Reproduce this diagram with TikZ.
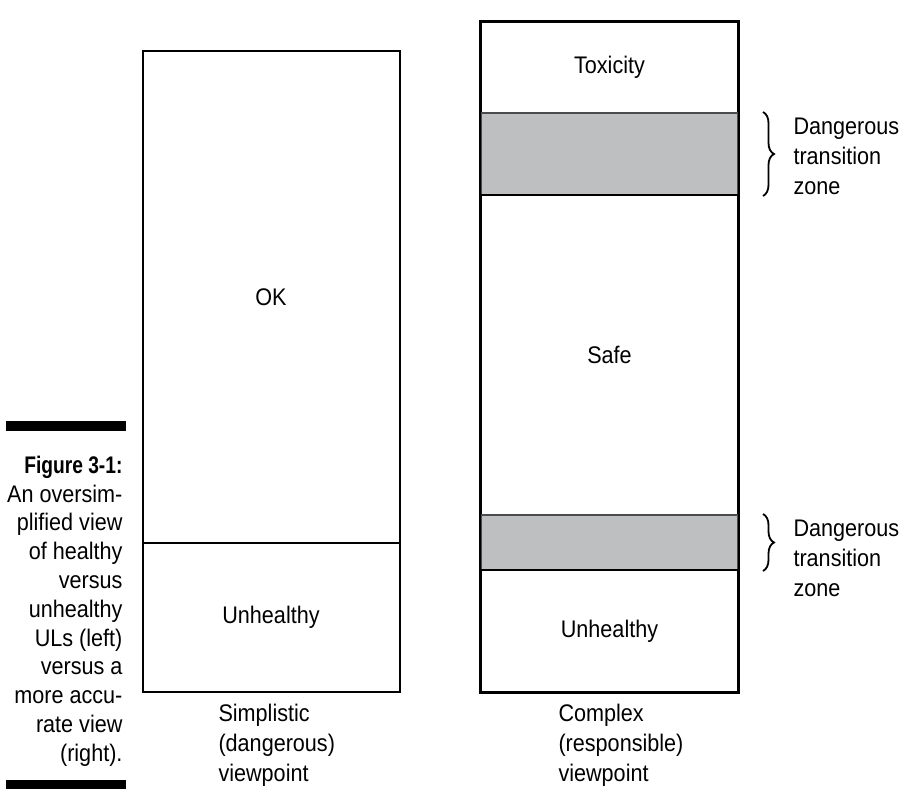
\documentclass[tikz,border=0pt]{standalone}
\usepackage{fontspec}
\setmainfont{Liberation Sans}[FakeStretch=0.9, BoldFeatures={FakeStretch=0.8}]
\usepackage{tikz}
\usetikzlibrary{decorations.pathreplacing}
\definecolor{zonegray}{RGB}{190,191,193}
\newcommand{\lbl}{\fontsize{24}{30}\selectfont}
\newcommand{\cpt}{\fontsize{24}{28.8}\selectfont}

\begin{document}
\begin{tikzpicture}[x=1pt,y=-1pt,
zonebox/.style={rectangle, draw=black, line width=2pt, minimum width=257pt, inner sep=0pt, font=\lbl},
graybox/.style={zonebox, draw=black!70, fill=zonegray},
bar/.style={rectangle, fill=black, inner sep=0pt, minimum width=120pt, minimum height=9.5pt},
zonebrace/.style={decorate, decoration={brace, amplitude=11pt}, line width=1.8pt},
label/.style={align=left, font=\lbl}
]
\useasboundingbox (0,0) rectangle (900,791);
%Nodes
\node[zonebox, minimum height=492pt] at (271,297) (ok) {OK};
\node[zonebox, minimum height=149pt] at (271,617.5) (unhealthyL) {Unhealthy};

\node[zonebox, minimum height=91pt] at (609.5,67.5) (toxicity) {Toxicity};
\node[graybox, minimum height=82pt] at (609.5,154) (zoneTop) {};
\node[zonebox, minimum height=320pt] at (609.5,355) (safe) {Safe};
\node[graybox, minimum height=55pt] at (609.5,542.5) (zoneBottom) {};
\node[zonebox, minimum height=122pt] at (609.5,631) (unhealthyR) {Unhealthy};

\node[label, anchor=west] at (790,156) (dangerTop) {Dangerous\\transition\\zone};
\node[label, anchor=west] at (790,558) (dangerBottom) {Dangerous\\transition\\zone};

\node[label, anchor=west] at (215,745) (simple) {Simplistic\\(dangerous)\\viewpoint};
\node[label, anchor=west] at (555,745) (complex) {Complex\\(responsible)\\viewpoint};

\node[bar] at (66,426) (barTop) {};
\node[bar] at (66,784.5) (barBottom) {};
\node[align=right, anchor=east, font=\cpt] at (126,611) (caption)
  {\textbf{Figure 3-1:}\\An oversim-\\plified view\\of healthy\\versus\\unhealthy\\ULs (left)\\versus a\\more accu-\\rate view\\(right).};

%Lines
\draw[line width=2pt] (toxicity.north west) rectangle (unhealthyR.south east);
\draw[zonebrace] ([xshift=24pt]zoneTop.north east) -- ([xshift=24pt]zoneTop.south east);
\draw[zonebrace] ([xshift=24pt]zoneBottom.north east) -- ([xshift=24pt]zoneBottom.south east);

\end{tikzpicture}
\end{document}
